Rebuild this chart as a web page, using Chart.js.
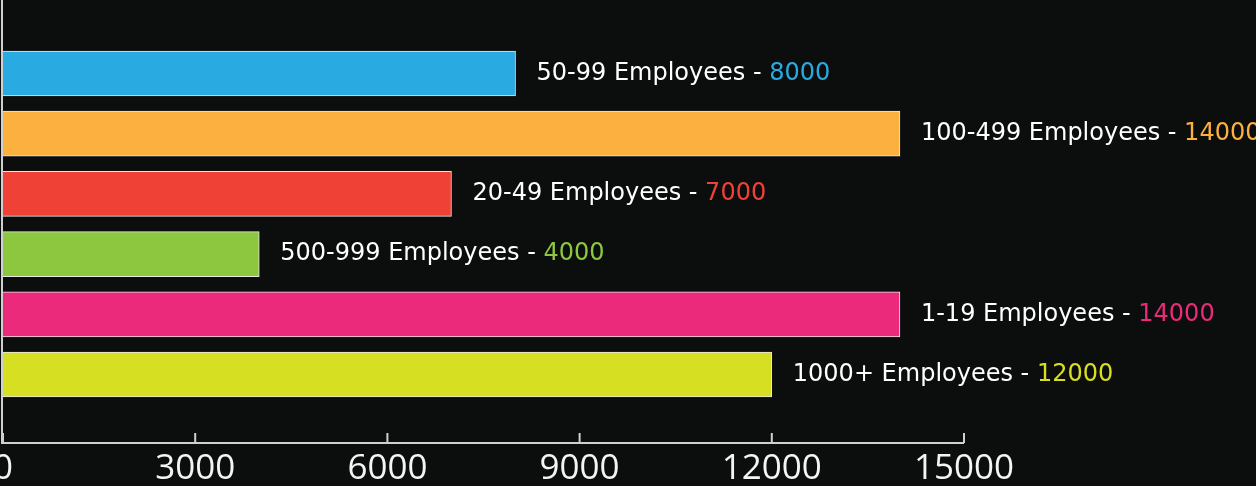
<!DOCTYPE html>
<html lang="en">
<head>
  <meta charset="UTF-8" />
  <title>Employees Bar Chart</title>
  <script src="https://cdn.jsdelivr.net/npm/chart.js"></script>
  <style>
    html, body { margin: 0; padding: 0; background: #0c0d0d; }
    #wrap { width: 1256px; height: 486px; }
  </style>
</head>
<body>
  <div id="wrap"><canvas id="barChart"></canvas></div>

  <script>
    const categories = ['50-99 Employees', '100-499 Employees', '20-49 Employees', '500-999 Employees', '1-19 Employees', '1000+ Employees'];
    const counts = [8000, 14000, 7000, 4000, 14000, 12000];
    const barColors = ['#29abe2', '#fbb040', '#ef4136', '#8dc63f', '#ec2a7b', '#d7df23'];
    const xTicks = [0, 3000, 6000, 9000, 12000, 15000];

    // bars sit on a linear y scale so the empty space above/below matches
    const points = counts.map((v, i) => ({ x: v, y: i }));

    const axisLines = {
      id: 'axisLines',
      afterDatasetsDraw(chart) {
        const { ctx, chartArea, scales } = chart;
        ctx.save();
        ctx.strokeStyle = '#d0d0d0';
        ctx.lineWidth = 2;
        ctx.beginPath();
        ctx.moveTo(chartArea.left - 1, 0);
        ctx.lineTo(chartArea.left - 1, chartArea.bottom);
        ctx.lineTo(scales.x.right, chartArea.bottom);
        xTicks.forEach(t => {
          const px = scales.x.getPixelForValue(t);
          ctx.moveTo(px, chartArea.bottom);
          ctx.lineTo(px, chartArea.bottom - 10);
        });
        ctx.stroke();

        // labels beside bars
        const meta = chart.getDatasetMeta(0);
        ctx.font = '24px "DejaVu Sans"';
        ctx.textBaseline = 'middle';
        meta.data.forEach((bar, i) => {
          const txt = categories[i] + ' - ';
          const x0 = bar.x + 21;
          ctx.fillStyle = '#ffffff';
          ctx.fillText(txt, x0, bar.y);
          ctx.fillStyle = barColors[i];
          ctx.fillText(String(counts[i]), x0 + ctx.measureText(txt).width, bar.y);
        });
        ctx.restore();
      }
    };

    new Chart(document.getElementById('barChart'), {
      type: 'bar',
      data: {
        datasets: [{
          data: points,
          backgroundColor: barColors,
          borderColor: '#e8e8e8',
          borderWidth: 1,
          barThickness: 45
        }]
      },
      options: {
        indexAxis: 'y',
        responsive: true,
        maintainAspectRatio: false,
        animation: false,
        layout: { padding: { left: 3, right: 292, top: 0, bottom: 0 } },
        plugins: { legend: { display: false }, tooltip: { enabled: false } },
        scales: {
          y: {
            type: 'linear',
            reverse: true,
            offset: false,
            bounds: 'data',
            grace: 0,
            min: -1.221,
            max: 6.138,
            display: false
          },
          x: {
            type: 'linear',
            min: 0,
            max: 15000,
            afterBuildTicks(scale) { scale.ticks = xTicks.map(v => ({ value: v })); },
            afterFit(scale) { scale.paddingLeft = 0; scale.paddingRight = 0; scale.height = 43; },
            border: { display: false },
            grid: { display: false, drawTicks: false },
            ticks: {
              color: '#f4f4f4',
              padding: 5,
              maxRotation: 0,
              autoSkip: false,
              callback: v => String(v),
              font: { family: '"Open Sans"', size: 35 }
            }
          }
        }
      },
      plugins: [axisLines]
    });
  </script>
</body>
</html>
